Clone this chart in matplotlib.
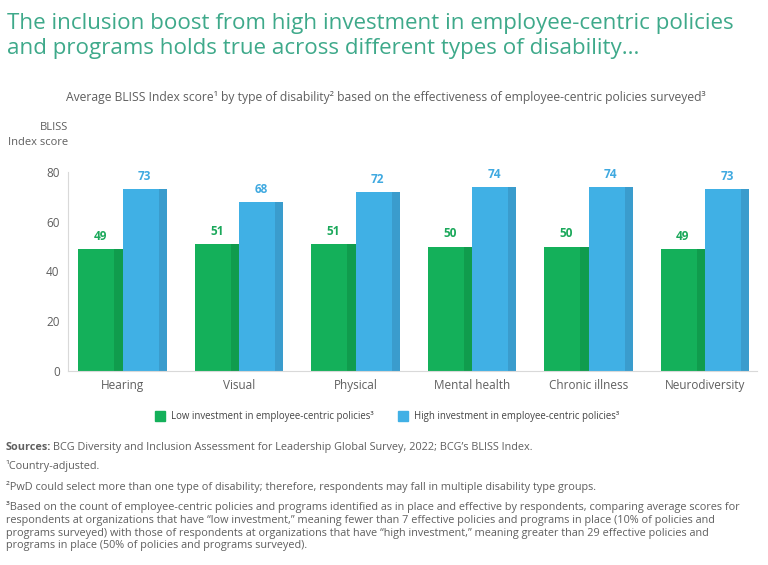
import matplotlib
matplotlib.use("Agg")
import matplotlib.pyplot as plt
import numpy as np

categories = ["Hearing", "Visual", "Physical", "Mental health", "Chronic illness", "Neurodiversity"]
low_vals = [49, 51, 51, 50, 50, 49]
high_vals = [73, 68, 72, 74, 74, 73]
yticks = [0, 20, 40, 60, 80]
series_names = ["Low investment in employee-centric policies³", "High investment in employee-centric policies³"]

GREEN, GREEN_D = "#14b05a", "#109c4d"
BLUE, BLUE_D = "#40b0e5", "#3a9ccd"
TITLE_C = "#3ea98a"
GREY = "#5f5f5f"
FONT = "Open Sans"

fig = plt.figure(figsize=(7.68, 5.65), dpi=100)
ax = fig.add_axes([68/768, 1-371/565, (757-68)/768, (371-172)/565])

x = np.arange(len(categories))
w = 0.38
sw = 0.07
ax.bar(x - w/2, low_vals, width=w, color=GREEN, linewidth=0)
ax.bar(x + w/2, high_vals, width=w, color=BLUE, linewidth=0)
ax.bar(x - sw/2, low_vals, width=sw, color=GREEN_D, linewidth=0)
ax.bar(x + w - sw/2, high_vals, width=sw, color=BLUE_D, linewidth=0)

for xi, v in zip(x, low_vals):
    ax.text(xi - w/2, v + 2.5, str(v), ha="center", va="bottom", color="#1aa85a",
            fontsize=8.5, fontweight="bold", family=FONT)
for xi, v in zip(x, high_vals):
    ax.text(xi + w/2, v + 2.5, str(v), ha="center", va="bottom", color="#3fa9e0",
            fontsize=8.5, fontweight="bold", family=FONT)

ax.set_xlim(-0.468, 5.446)
ax.set_ylim(0, 80)
ax.set_yticks(yticks)
ax.set_xticks(x)
ax.set_xticklabels(categories, family=FONT, fontsize=8.5, color=GREY)
ax.set_yticklabels([str(t) for t in yticks], family=FONT, fontsize=8.5, color=GREY)
ax.tick_params(length=0, pad=6)
for s in ["top", "right"]:
    ax.spines[s].set_visible(False)
ax.spines["left"].set_color("#d9d9d9")
ax.spines["bottom"].set_color("#d9d9d9")

fig.text(68/768, 1-135/565, "BLISS\nIndex score", ha="right", va="center", family=FONT,
         fontsize=8, color=GREY, linespacing=1.45)

fig.text(7/768, 1-13/565, "The inclusion boost from high investment in employee-centric policies\nand programs holds true across different types of disability...",
         ha="left", va="top", family=FONT, fontsize=16.1, color=TITLE_C, linespacing=1.25)

fig.text(386/768, 1-98/565, "Average BLISS Index score¹ by type of disability² based on the effectiveness of employee-centric policies surveyed³",
         ha="center", va="center", family=FONT, fontsize=8.7, color=GREY)

# legend
leg_y = 1-416/565
for (xx, col, name) in [(155, GREEN, series_names[0]), (398, BLUE, series_names[1])]:
    fig.patches.append(plt.Rectangle((xx/768, leg_y - 5/565), 10/768, 10/565, color=col,
                                     transform=fig.transFigure, figure=fig))
    fig.text((xx + 16)/768, leg_y, name, ha="left", va="center", family=FONT, fontsize=6.9, color="#444444")

fs = 7.8
src_y = 1-450/565
t_src = fig.text(6/768, src_y, "Sources:", ha="left", va="baseline", family=FONT, fontsize=fs,
                 fontweight="bold", color=GREY)
r = fig.canvas.get_renderer()
bb = t_src.get_window_extent(renderer=r)
fig.text((bb.x1 + 2)/768, src_y, "BCG Diversity and Inclusion Assessment for Leadership Global Survey, 2022; BCG’s BLISS Index.",
         ha="left", va="baseline", family=FONT, fontsize=fs, color=GREY)
fig.text(6/768, 1-466/565, "¹Country-adjusted.", ha="left", va="center", family=FONT, fontsize=fs, color=GREY)
fig.text(6/768, 1-487/565, "²PwD could select more than one type of disability; therefore, respondents may fall in multiple disability type groups.",
         ha="left", va="center", family=FONT, fontsize=fs, color=GREY)
fig.text(6/768, 1-501/565,
         "³Based on the count of employee-centric policies and programs identified as in place and effective by respondents, comparing average scores for\n"
         "respondents at organizations that have “low investment,” meaning fewer than 7 effective policies and programs in place (10% of policies and\n"
         "programs surveyed) with those of respondents at organizations that have “high investment,” meaning greater than 29 effective policies and\n"
         "programs in place (50% of policies and programs surveyed).",
         ha="left", va="top", family=FONT, fontsize=fs, color=GREY, linespacing=1.22)

fig.savefig("out.png", dpi=100)
